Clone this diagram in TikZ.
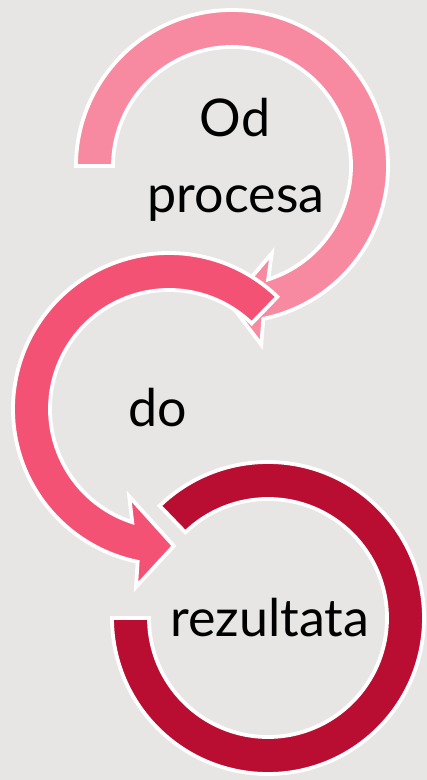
\documentclass[tikz,border=0pt]{standalone}
\usepackage{fontspec}
\setmainfont{Lato}
\definecolor{bg}{HTML}{E7E6E4}
\definecolor{pinkA}{HTML}{F78AA0}
\definecolor{pinkB}{HTML}{F35274}
\definecolor{redC}{HTML}{B90E31}
\begin{document}
\begin{tikzpicture}[x=1pt,y=1pt,
  band/.style={draw=white, line width=3.8pt, line join=miter, miter limit=6},
  lbl/.style={font=\fontsize{52}{60}\selectfont, anchor=base, inner sep=0pt, text=black}]
\fill[bg] (0,0) rectangle (427,780);
\useasboundingbox (0,0) rectangle (427,780);
\coordinate (c1) at (232,614);
\coordinate (c2) at (169,371);
\coordinate (c3) at (268,162);
% arrow 1 (top, clockwise)
\begin{scope}[shift={(c1)}]
\filldraw[band, fill=pinkA] (180:156) arc[start angle=180, end angle=-78.4, radius=156]
  -- (-80.7:181) -- (-91:137) -- (-65.5:96) -- (-72.3:119)
  arc[start angle=-72.3, end angle=180, radius=119] -- cycle;
\end{scope}
% arrow 2 (middle, counterclockwise)
\begin{scope}[shift={(c2)}]
\filldraw[band, fill=pinkB] (46:119) -- (46:156) arc[start angle=46, end angle=258.4, radius=156]
  -- (259.5:181) -- (272:137) -- (245.5:96) -- (252:119)
  arc[start angle=252, end angle=46, radius=119] -- cycle;
\end{scope}
% arrow 3 (bottom, ring)
\begin{scope}[shift={(c3)}]
\filldraw[band, fill=redC] (134:119) -- (134:156) arc[start angle=134, end angle=-180, radius=156]
  -- (180:119) arc[start angle=-180, end angle=134, radius=119] -- cycle;
\end{scope}
\node[lbl] (t1) at (235,643) {Od};
\node[lbl] (t2) at (236,567) {procesa};
\node[lbl] (t3) at (158,353) {do};
\node[lbl] (t4) at (270,143) {rezultata};
\end{tikzpicture}
\end{document}
